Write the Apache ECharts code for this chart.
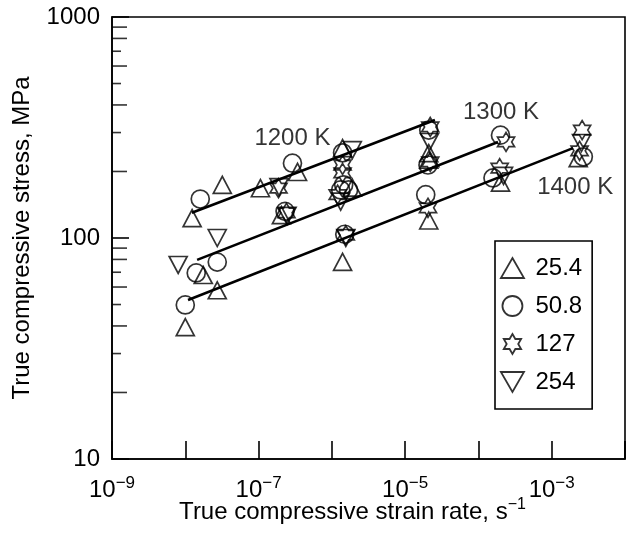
<!DOCTYPE html>
<html><head><meta charset="utf-8">
<script src="https://cdn.jsdelivr.net/npm/echarts@6/dist/echarts.min.js"></script>
<style>html,body{margin:0;padding:0;background:#fff}#c{width:632px;height:533px}</style>
</head><body><div id="c"></div>
<script>
// ---- data (strain rate s^-1, stress MPa) ----
const legendNames = ['25.4', '50.8', '127', '254'];
const tri254 = [
  [1.0e-8, 39.5], [1.24e-8, 123], [1.76e-8, 68], [2.73e-8, 58], [3.2e-8, 174],
  [1.06e-7, 168], [3.4e-7, 199], [2.05e-7, 127], [1.4e-6, 255], [1.9e-6, 169],
  [1.4e-6, 78], [2.1e-5, 242], [2.1e-5, 226], [2.1e-5, 120], [2.0e-4, 178], [2.3e-3, 230]
];
const circ508 = [
  [1.0e-8, 49.8], [1.6e-8, 150], [1.41e-8, 69.5], [2.73e-8, 77.8], [2.9e-7, 218],
  [2.3e-7, 132], [1.4e-6, 243], [1.45e-6, 174], [1.32e-6, 165], [1.69e-6, 165],
  [1.5e-6, 104], [2.1e-5, 308], [2.05e-5, 214], [1.91e-5, 157], [2.0e-4, 292],
  [1.58e-4, 187], [2.7e-3, 233]
];
const star127 = [
  [1.87e-7, 168], [2.4e-7, 130], [1.4e-6, 214], [1.4e-6, 197], [1.2e-6, 157],
  [1.55e-6, 103], [2.2e-5, 318], [2.2e-5, 221], [2.05e-5, 137], [2.38e-4, 272],
  [1.95e-4, 207], [2.6e-3, 308], [2.4e-3, 248]
];
const inv254 = [
  [8.0e-9, 75.5], [2.73e-8, 100], [1.9e-7, 170], [2.45e-7, 126], [1.9e-6, 250],
  [1.32e-6, 146], [1.55e-6, 100], [2.15e-5, 272], [2.2e-4, 191], [2.55e-3, 269]
];
const line1200 = [[1.23e-8, 130], [2.55e-5, 342]];
const line1300 = [[1.45e-8, 79.6], [1.85e-4, 272]];
const line1400 = [[1.09e-8, 52.4], [1.95e-3, 255]];
const tempNames = ['1200 K', '1300 K', '1400 K'];
const tempAnchors = [[2.9e-7, 283], [2.03e-4, 371], [2.09e-3, 170]];
const xLabelExps = [-9, -7, -5, -3];
const yLabelVals = [10, 100, 1000];
const yMinorLong = [20, 40, 60, 80, 90, 200, 400, 600, 800, 900];
const yMinorShort = [30, 50, 70, 300, 500, 700];

// ---- styling ----
const FONT = 'Liberation Sans, Arial, Helvetica, sans-serif';
const TRI = 'path://M50,0 L100,86.6 L0,86.6 Z';
const INV = 'path://M0,0 L100,0 L50,86.6 Z';
const STAR = 'path://M50,0 L64.43,25 L93.3,25 L78.87,50 L93.3,75 L64.43,75 L50,100 L35.57,75 L6.7,75 L21.13,50 L6.7,25 L35.57,25 Z';
const mk = {color: 'rgba(0,0,0,0)', borderColor: '#000', borderWidth: 1.7};

function scatter(name, data, symbol, size) {
  return {name, type: 'scatter', data, symbol, symbolSize: size, itemStyle: mk,
    z: 4, emphasis: {disabled: true}};
}
function fitLine(data) {
  return {type: 'line', data, symbol: 'none', lineStyle: {color: '#000', width: 2.6},
    z: 3, silent: true};
}
function minor(vals, len) {
  return {type: 'scatter', data: vals.map(v => [1e-9, v]), symbol: 'rect',
    symbolSize: [len, 1.6], symbolOffset: [len / 2, 0], itemStyle: {color: '#000'},
    silent: true, clip: false, z: 5};
}

const chart = echarts.init(document.getElementById('c'));
chart.setOption({
  animation: false,
  backgroundColor: '#fff',
  textStyle: {fontFamily: FONT, color: '#000'},
  grid: {left: 112, right: 7, top: 17, bottom: 74, show: true, borderColor: '#000', borderWidth: 1.6,
         containLabel: false, outerBoundsMode: 'none'},
  xAxis: {
    type: 'log', logBase: 10, min: 1e-9, max: 1e-2,
    axisLine: {lineStyle: {color: '#000', width: 1.6}},
    axisTick: {inside: true, length: 18, lineStyle: {color: '#000', width: 1.6}},
    splitLine: {show: false},
    axisLabel: {
      interval: 0, margin: 16, color: '#000', fontFamily: FONT,
      formatter: v => {
        const e = Math.round(Math.log10(v));
        return xLabelExps.includes(e) ? '{b|10}{s|−' + (-e) + '}' : '';
      },
      rich: {b: {fontSize: 24, fontFamily: FONT, color: '#000'},
             s: {fontSize: 17, fontFamily: FONT, color: '#000', padding: [0, 0, 14, 0]}}
    },
    name: '{t|True compressive strain rate, s}{s|−1}',
    nameLocation: 'middle', nameGap: 38, nameMoveOverlap: false,
    nameTextStyle: {verticalAlign: 'top', padding: [0, 32, 0, 0],
                    rich: {t: {fontSize: 24, fontFamily: FONT, color: '#000'},
                           s: {fontSize: 16, fontFamily: FONT, color: '#000', padding: [0, 0, 14, 0]}}}
  },
  yAxis: {
    type: 'log', logBase: 10, min: 10, max: 1000,
    axisLine: {lineStyle: {color: '#000', width: 1.6}},
    axisTick: {inside: true, length: 17, lineStyle: {color: '#000', width: 1.6}},
    splitLine: {show: false},
    axisLabel: {margin: 12, fontSize: 24, color: '#000', fontFamily: FONT,
      formatter: v => { const r = Math.round(v); return yLabelVals.includes(r) ? String(r) : ''; }},
    name: 'True compressive stress, MPa', nameLocation: 'middle', nameGap: 78, nameMoveOverlap: false,
    nameTextStyle: {fontSize: 24, fontFamily: FONT, color: '#000'}
  },
  legend: {
    data: legendNames, orient: 'vertical', left: 495, top: 241,
    borderColor: '#000', borderWidth: 1.6, padding: [15, 10, 15, 5],
    itemWidth: 36, itemHeight: 20, itemGap: 14, symbolKeepAspect: true,
    itemStyle: {borderWidth: 1.8},
    textStyle: {fontSize: 24, fontFamily: FONT, color: '#000'},
    selectedMode: false
  },
  series: [
    fitLine(line1200), fitLine(line1300), fitLine(line1400),
    scatter(legendNames[0], tri254, TRI, [18, 17]),
    scatter(legendNames[1], circ508, 'circle', 18),
    scatter(legendNames[2], star127, STAR, [17, 19]),
    scatter(legendNames[3], inv254, INV, [18, 17]),
    minor(yMinorLong, 15), minor(yMinorShort, 9),
    {type: 'scatter', data: tempAnchors.map((p, i) => [p[0], p[1], tempNames[i]]),
     symbolSize: 0, silent: true, z: 6,
     label: {show: true, position: 'inside', formatter: p => p.data[2],
             fontSize: 24, fontFamily: FONT, color: '#000'}}
  ]
});
</script></body></html>
